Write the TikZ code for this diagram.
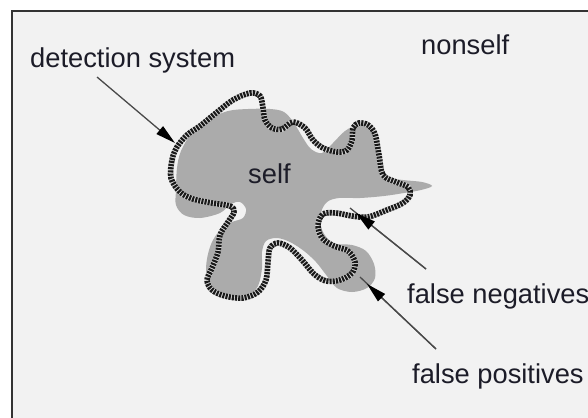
\documentclass[tikz,border=0pt]{standalone}
\usepackage{fontspec}
\setmainfont{Liberation Sans}
\usetikzlibrary{arrows.meta}
\definecolor{paper}{HTML}{F2F2F2}
\definecolor{framecol}{HTML}{333333}
\definecolor{selfgray}{HTML}{ABABAB}
\definecolor{txt}{HTML}{1C1C28}
\definecolor{linegray}{HTML}{4A4A4A}
\begin{document}
\begin{tikzpicture}[x=1pt,y=-1pt,
  lbl/.style={anchor=base west, inner sep=0pt, text=txt,
              font=\fontsize{27.3}{30}\selectfont},
  conn/.style={draw=linegray, line width=1.3pt},
  pointer/.style={conn, -{Triangle[length=20pt,width=10pt,color=black]}},
  detector/.style={draw=black!90, line width=5.6pt, dash pattern=on 2.1pt off 1.1pt,
                   preaction={draw=white!85!black, solid, line width=5.6pt}}
]
\useasboundingbox (0,0) rectangle (588,417);
\fill[white] (0,0) rectangle (588,417);
\filldraw[fill=paper, draw=framecol, line width=2pt] (12,11) rectangle (610,440);

% the self region
\fill[selfgray] plot[smooth cycle, tension=0.55] coordinates {
  (176,190) (177,168) (181,151) (192,133) (210,119) (228,111) (248,109)
  (270,109) (284,112) (294,123) (303,138) (311,149) (322,153) (333,143)
  (345,131) (358,125) (370,130) (377,144) (380,164) (388,177) (403,180)
  (422,182) (432,186) (421,190) (404,193) (384,196) (360,198) (339,198)
  (327,202) (321,213) (322,230) (333,243) (352,245) (366,251) (374,264)
  (375,278) (367,288) (352,292) (337,288) (327,276) (316,262) (304,251)
  (290,242) (277,238) (266,241) (262,252) (262,268) (258,286) (248,296)
  (232,298) (218,294) (209,284) (206,270) (208,254) (213,240) (222,228)
  (232,222) (243,218) (246,209) (240,202) (231,204) (220,213) (200,218)
  (184,215) (176,205)};

% the detection system boundary
\draw[detector] plot[smooth cycle, tension=0.55] coordinates {
  (171,178) (172,160) (177,147) (187,135) (200,126) (216,113) (233,100)
  (250,93) (260,96) (263,108) (265,120) (272,128) (282,129) (293,122)
  (305,128) (313,140) (323,148) (337,152) (347,150) (352,140) (353,128)
  (359,123) (368,125) (375,134) (379,155) (383,175) (396,182) (408,187)
  (410,195) (403,203) (387,210) (368,217) (352,216) (336,213) (323,214)
  (318,225) (322,238) (334,246) (348,251) (355,262) (352,273) (340,280)
  (326,281) (314,274) (302,260) (290,248) (278,243) (270,248) (268,262)
  (266,280) (258,292) (243,298) (225,296) (212,290) (207,280) (212,268)
  (218,252) (220,235) (228,222) (234,212) (230,206) (212,203) (193,199)
  (180,192)};

% labels
\node[lbl] (detlbl) at (30,68) {detection system};
\node[lbl] (nonself) at (421,55) {nonself};
\node[lbl] (self) at (248,183) {self};
\node[lbl] (fneg) at (407,303) {false negatives};
\node[lbl] (fpos) at (412,383) {false positives};

% pointers
\coordinate (detfrom) at (97,77);
\coordinate (detto) at (175,143);
\coordinate (fnfrom) at (426,269);
\coordinate (fnto) at (356,213);
\coordinate (fnend) at (350,208);
\coordinate (fpfrom) at (436,349);
\coordinate (fpto) at (367,284);
\coordinate (fpend) at (360,277);

\draw[pointer] (detfrom) -- (detto);
\draw[conn] (fnfrom) -- (fnend);
\draw[pointer] (fnfrom) -- (fnto);
\draw[conn] (fpfrom) -- (fpend);
\draw[pointer] (fpfrom) -- (fpto);
\end{tikzpicture}
\end{document}
